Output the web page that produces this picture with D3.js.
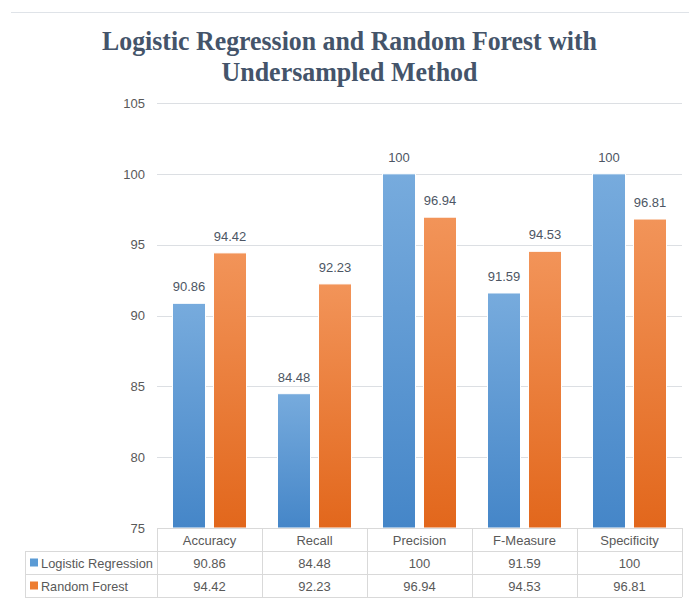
<!DOCTYPE html>
<html>
<head>
<meta charset="utf-8">
<script src="https://cdn.jsdelivr.net/npm/d3@7"></script>
<style>
  html, body { margin: 0; padding: 0; background: #fff; }
  svg { display: block; }
</style>
</head>
<body>
<svg id="chart" width="689" height="600"></svg>
<script>
// Metrics compared for the two classifiers
const categories = ["Accuracy", "Recall", "Precision", "F-Measure", "Specificity"];
const seriesNames = ["Logistic Regression", "Random Forest"];
const logisticValues = [90.86, 84.48, 100, 91.59, 100];
const forestValues = [94.42, 92.23, 96.94, 94.53, 96.81];
const yTicks = [75, 80, 85, 90, 95, 100, 105];
const titleLines = ["Logistic Regression and Random Forest with", "Undersampled Method"];

const series = [
  { name: seriesNames[0], values: logisticValues, top: "#77abdd", bottom: "#4586c8", key: "#5b9bd5" },
  { name: seriesNames[1], values: forestValues, top: "#f29459", bottom: "#e2671c", key: "#ed7d31" }
];

const svg = d3.select("#chart");
const textFont = "'Liberation Sans', Arial, sans-serif";

const plot = { left: 157, right: 682, top: 103, bottom: 528 };

const x = d3.scaleBand().domain(categories).range([plot.left, plot.right]).paddingInner(0).paddingOuter(0);
const y = d3.scaleLinear().domain([75, 105]).range([plot.bottom, plot.top]);

// gradients for bars
const defs = svg.append("defs");
series.forEach((s, i) => {
  const g = defs.append("linearGradient").attr("id", "grad" + i)
    .attr("x1", 0).attr("y1", 0).attr("x2", 0).attr("y2", 1);
  g.append("stop").attr("offset", "0%").attr("stop-color", s.top);
  g.append("stop").attr("offset", "100%").attr("stop-color", s.bottom);
});

// top rule
svg.append("line").attr("x1", 11).attr("x2", 689).attr("y1", 12.5).attr("y2", 12.5)
  .attr("stroke", "#dfe3e8").attr("stroke-width", 1);

// title
const title = svg.append("g");
title.append("text").attr("x", 349.5).attr("y", 50)
  .attr("text-anchor", "middle")
  .attr("font-family", "'Liberation Serif', 'Times New Roman', serif")
  .attr("font-weight", "bold").attr("font-size", 27).attr("fill", "#44546a")
  .attr("textLength", 495).attr("lengthAdjust", "spacingAndGlyphs")
  .text(titleLines[0]);
title.append("text").attr("x", 349.5).attr("y", 81)
  .attr("text-anchor", "middle")
  .attr("font-family", "'Liberation Serif', 'Times New Roman', serif")
  .attr("font-weight", "bold").attr("font-size", 27).attr("fill", "#44546a")
  .attr("textLength", 256).attr("lengthAdjust", "spacingAndGlyphs")
  .text(titleLines[1]);

// gridlines
svg.append("g").selectAll("line").data(yTicks.filter(t => t > 75)).join("line")
  .attr("x1", plot.left).attr("x2", plot.right)
  .attr("y1", d => Math.round(y(d)) + 0.5).attr("y2", d => Math.round(y(d)) + 0.5)
  .attr("stroke", "#dcdfe3").attr("stroke-width", 1);

// y axis labels
const yAxis = d3.axisLeft(y).tickValues(yTicks).tickSize(0).tickPadding(0);
const yg = svg.append("g").attr("transform", `translate(${plot.left - 12},0)`).call(yAxis);
yg.select(".domain").remove();
yg.selectAll("text").attr("font-family", textFont).attr("font-size", 13).attr("fill", "#595959");

// bars
const barW = 33, gap = 8;
series.forEach((s, i) => {
  const offset = i === 0 ? -(gap / 2 + barW) : gap / 2;
  const g = svg.append("g");
  g.selectAll("rect").data(s.values).join("rect")
    .attr("x", (d, j) => x(categories[j]) + x.bandwidth() / 2 + offset)
    .attr("y", d => y(d))
    .attr("width", barW)
    .attr("height", d => y(75) - y(d))
    .attr("fill", `url(#grad${i})`)
    .attr("stroke", "#ffffff").attr("stroke-width", 1);
  g.selectAll("text").data(s.values).join("text")
    .attr("x", (d, j) => x(categories[j]) + x.bandwidth() / 2 + offset + barW / 2)
    .attr("y", d => y(d) - 12)
    .attr("text-anchor", "middle")
    .attr("font-family", textFont).attr("font-size", 13).attr("fill", "#4d5664")
    .text(d => d3.format("")(d));
});

// data table
const rowH = 23;
const tableTop = plot.bottom;
const labelLeft = 25;
const border = "#d9d9d9";
const tg = svg.append("g");

// horizontal lines
tg.append("line").attr("x1", plot.left).attr("x2", plot.right)
  .attr("y1", tableTop + 0.5).attr("y2", tableTop + 0.5).attr("stroke", border);
[1, 2, 3].forEach(r => {
  tg.append("line").attr("x1", labelLeft).attr("x2", plot.right)
    .attr("y1", tableTop + r * rowH + 0.5).attr("y2", tableTop + r * rowH + 0.5).attr("stroke", border);
});
// vertical lines
const colEdges = categories.map(c => x(c)).concat([plot.right]);
colEdges.forEach(cx => {
  tg.append("line").attr("x1", Math.round(cx) + 0.5).attr("x2", Math.round(cx) + 0.5)
    .attr("y1", tableTop).attr("y2", tableTop + 3 * rowH).attr("stroke", border);
});
tg.append("line").attr("x1", labelLeft + 0.5).attr("x2", labelLeft + 0.5)
  .attr("y1", tableTop + rowH).attr("y2", tableTop + 3 * rowH).attr("stroke", border);

// header row
tg.selectAll("text.head").data(categories).join("text").attr("class", "head")
  .attr("x", d => x(d) + x.bandwidth() / 2)
  .attr("y", tableTop + rowH / 2 + 5)
  .attr("text-anchor", "middle")
  .attr("font-family", textFont).attr("font-size", 13).attr("fill", "#595959")
  .text(d => d);

// series rows
series.forEach((s, i) => {
  const rowY = tableTop + (i + 1) * rowH;
  tg.append("rect").attr("x", labelLeft + 5).attr("y", rowY + rowH / 2 - 4)
    .attr("width", 8).attr("height", 8).attr("fill", s.key);
  tg.append("text").attr("x", labelLeft + 16).attr("y", rowY + rowH / 2 + 5)
    .attr("font-family", textFont).attr("font-size", 13).attr("fill", "#595959")
    .attr("textLength", i === 0 ? 112 : 87).attr("lengthAdjust", "spacingAndGlyphs")
    .text(s.name);
  tg.selectAll("text.v" + i).data(s.values).join("text").attr("class", "v" + i)
    .attr("x", (d, j) => x(categories[j]) + x.bandwidth() / 2)
    .attr("y", rowY + rowH / 2 + 5)
    .attr("text-anchor", "middle")
    .attr("font-family", textFont).attr("font-size", 13).attr("fill", "#595959")
    .text(d => d3.format("")(d));
});
</script>
</body>
</html>
